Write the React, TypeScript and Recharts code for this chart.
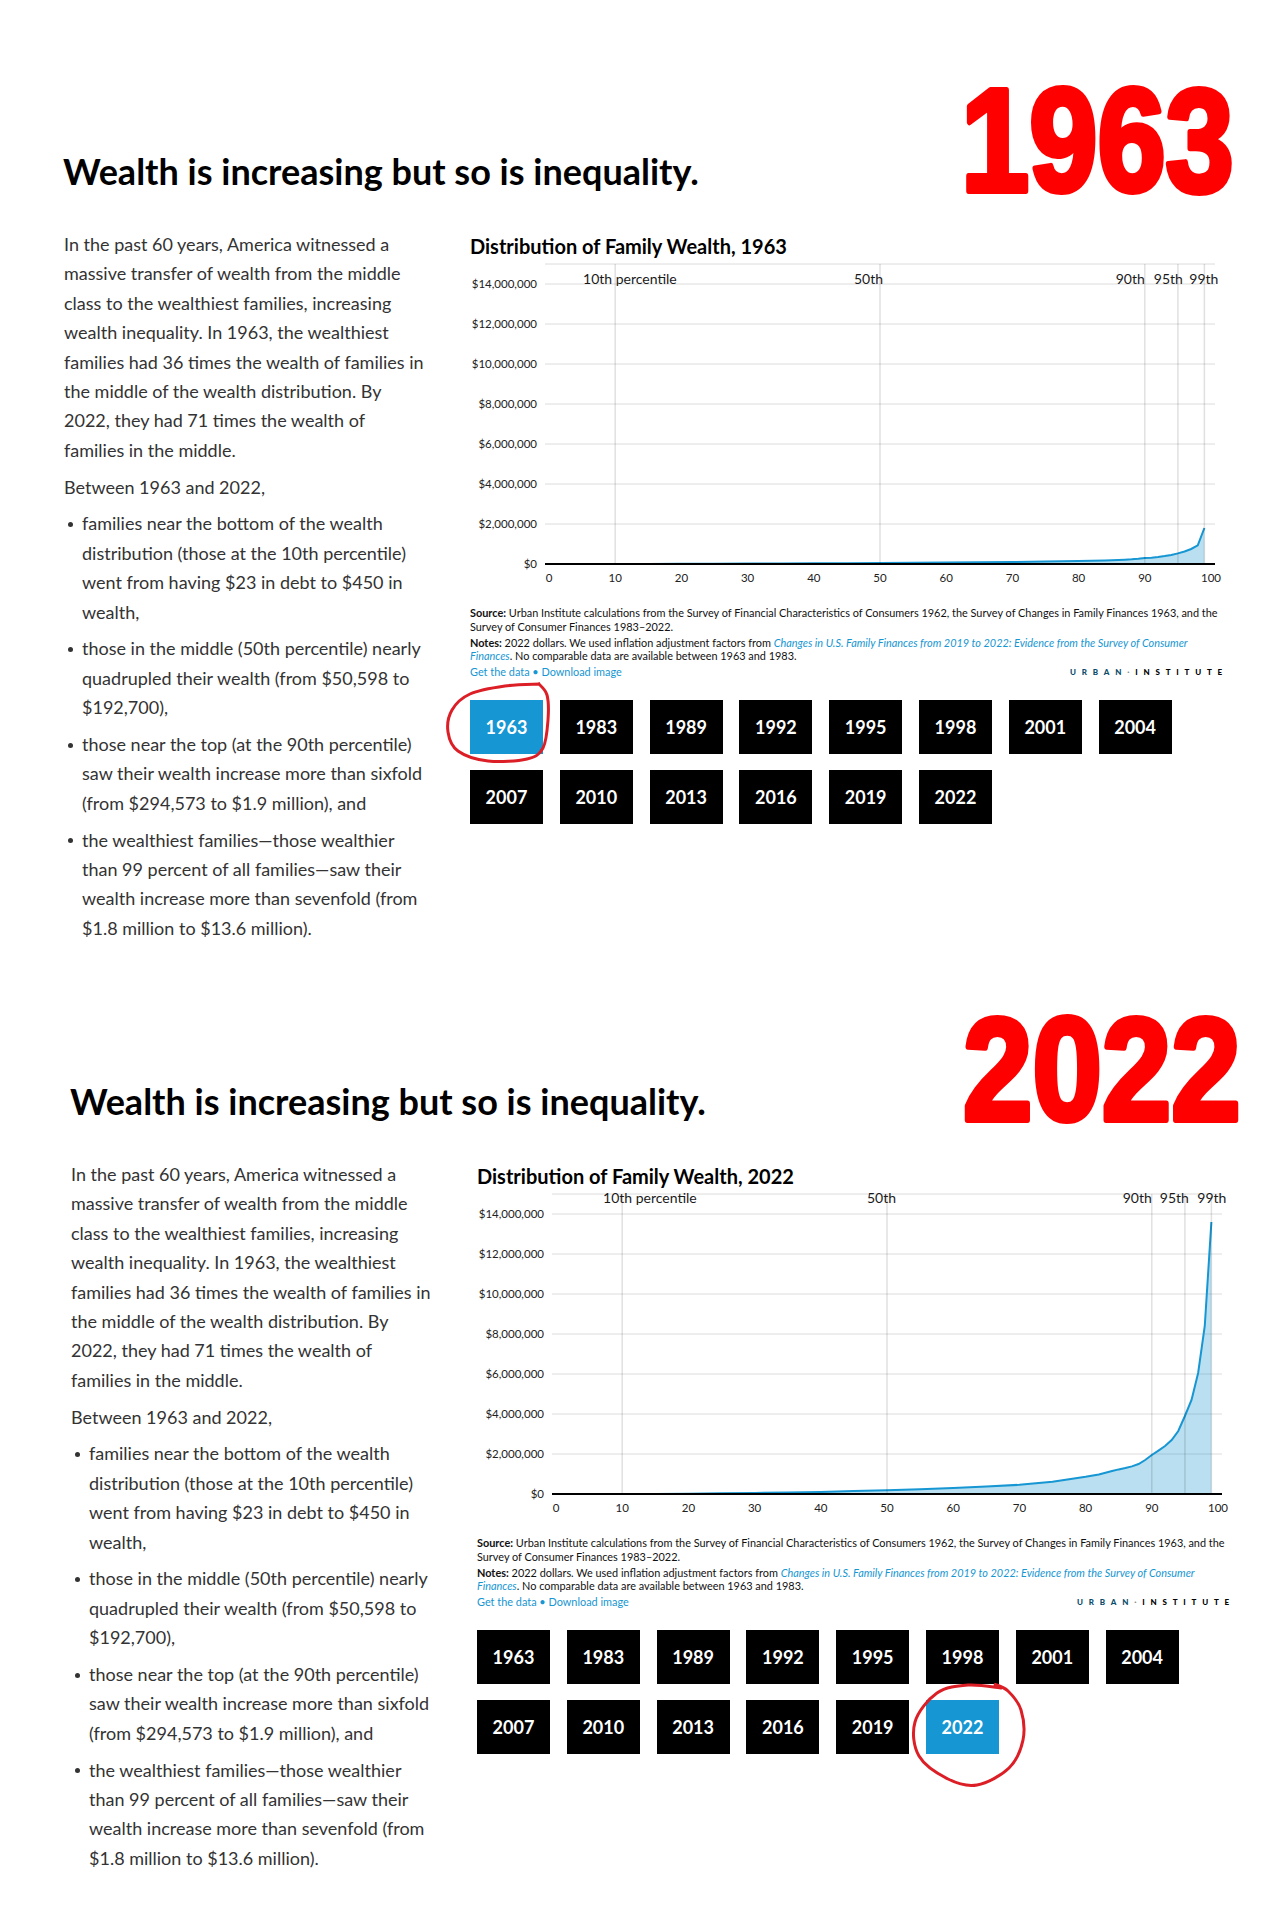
import React from "react"
import {
  ComposedChart,
  Area,
  XAxis,
  YAxis,
  CartesianGrid,
  ReferenceLine,
} from "recharts"

// percentiles plotted on the x axis
const percentiles = [
  1, 5, 10, 15, 20, 25, 30, 35, 40, 45, 50, 55, 60, 65, 70, 75, 80, 82, 84, 85, 86, 87, 88, 89,
  90, 91, 92, 93, 94, 95, 96, 97, 98, 99,
]

// family wealth (2022 dollars)
const wealth1963 = [
  -40000, -5000, -23, 4000, 9000, 15000, 22000, 29000, 36000, 43000, 50598, 60000, 72000, 86000,
  102000, 122000, 148000, 162000, 178000, 188000, 200000, 214000, 232000, 258000, 294573, 318000,
  350000, 395000, 455000, 530000, 625000, 750000, 930000, 1800000,
]
const wealth2022 = [
  -110000, -15000, 450, 6000, 17000, 32000, 52000, 75000, 105000, 145000, 192700, 240000, 300000,
  370000, 460000, 610000, 860000, 980000, 1150000, 1230000, 1300000, 1380000, 1500000, 1700000,
  1950000, 2170000, 2400000, 2700000, 3150000, 3900000, 4700000, 6050000, 8400000, 13600000,
]

const xTicks = [0, 10, 20, 30, 40, 50, 60, 70, 80, 90, 100]
const yTicks = [0, 2000000, 4000000, 6000000, 8000000, 10000000, 12000000, 14000000]
const markerPercentiles = [10, 50, 90, 95, 99]
const markerLabels = ["10th", "50th", "90th", "95th", "99th"]
const years = [
  "1963", "1983", "1989", "1992", "1995", "1998", "2001", "2004",
  "2007", "2010", "2013", "2016", "2019", "2022",
]

const BLUE = "#1696d2"
const FONT = "Lato, 'Open Sans', sans-serif"

type BodyLine = { text: string; bullet?: boolean; indent?: boolean; gap?: boolean }

const bodyLines: BodyLine[] = [
  { text: "In the past 60 years, America witnessed a" },
  { text: "massive transfer of wealth from the middle" },
  { text: "class to the wealthiest families, increasing" },
  { text: "wealth inequality. In 1963, the wealthiest" },
  { text: "families had 36 times the wealth of families in" },
  { text: "the middle of the wealth distribution. By" },
  { text: "2022, they had 71 times the wealth of" },
  { text: "families in the middle." },
  { text: "Between 1963 and 2022,", gap: true },
  { text: "families near the bottom of the wealth", bullet: true, indent: true, gap: true },
  { text: "distribution (those at the 10th percentile)", indent: true },
  { text: "went from having $23 in debt to $450 in", indent: true },
  { text: "wealth,", indent: true },
  { text: "those in the middle (50th percentile) nearly", bullet: true, indent: true, gap: true },
  { text: "quadrupled their wealth (from $50,598 to", indent: true },
  { text: "$192,700),", indent: true },
  { text: "those near the top (at the 90th percentile)", bullet: true, indent: true, gap: true },
  { text: "saw their wealth increase more than sixfold", indent: true },
  { text: "(from $294,573 to $1.9 million), and", indent: true },
  { text: "the wealthiest families\u2014those wealthier", bullet: true, indent: true, gap: true },
  { text: "than 99 percent of all families\u2014saw their", indent: true },
  { text: "wealth increase more than sevenfold (from", indent: true },
  { text: "$1.8 million to $13.6 million).", indent: true },
]

const circle1963 = [
  [540, 684], [505, 686], [470, 694], [452, 710], [448, 732], [458, 751], [488, 761],
  [527, 759], [543, 748], [548, 720], [547, 695], [538, 683],
]
const circle2022 = [
  [1002, 1688], [968, 1685], [937, 1693], [915, 1722], [919, 1756], [948, 1779], [977, 1785],
  [1009, 1768], [1023, 1740], [1021, 1710], [1008, 1691], [994, 1684],
]

function smoothPath(pts: number[][]) {
  let d = `M${pts[0][0]},${pts[0][1]}`
  for (let i = 0; i < pts.length - 1; i++) {
    const p0 = pts[i - 1] || pts[i]
    const p1 = pts[i]
    const p2 = pts[i + 1]
    const p3 = pts[i + 2] || p2
    const c1 = [p1[0] + (p2[0] - p0[0]) / 6, p1[1] + (p2[1] - p0[1]) / 6]
    const c2 = [p2[0] - (p3[0] - p1[0]) / 6, p2[1] - (p3[1] - p1[1]) / 6]
    d += ` C${c1[0]},${c1[1]} ${c2[0]},${c2[1]} ${p2[0]},${p2[1]}`
  }
  return d
}

const money = (v: number) => `$${v.toLocaleString("en-US")}`

function MarkerLabel(props: any) {
  const { viewBox, text, dx, dy, suffix } = props
  if (!viewBox) return null
  const x = viewBox.x + dx
  const y = viewBox.y + dy
  const style = { fontFamily: FONT, fontSize: 14, fill: "#1a1a1a" }
  return (
    <g>
      <text x={x} y={y} textAnchor="end" style={style}>
        {text}
      </text>
      {suffix && (
        <text x={x + 3.5} y={y} textAnchor="start" style={style}>
          {suffix}
        </text>
      )}
    </g>
  )
}

function WealthChart({
  values,
  labelDx,
  labelDy,
}: {
  values: number[]
  labelDx: number[]
  labelDy: number
}) {
  const data = percentiles.map((p, i) => ({ p, wealth: values[i] }))
  const tick = { fontFamily: FONT, fontSize: 11.5, fill: "#222" }
  return (
    <ComposedChart
      width={770}
      height={340}
      data={data}
      margin={{ top: 10, right: 25, left: 0, bottom: 0 }}
    >
      <CartesianGrid vertical={false} stroke="#dcdcdc" />
      <XAxis
        dataKey="p"
        type="number"
        domain={[0, 100]}
        ticks={xTicks}
        interval={0}
        padding={{ left: 4, right: 4 }}
        height={30}
        tickLine={false}
        tickSize={0}
        tickMargin={10}
        axisLine={{ stroke: "#000", strokeWidth: 2 }}
        tick={tick}
      />
      <YAxis
        type="number"
        domain={[0, 15000000]}
        allowDataOverflow
        ticks={yTicks}
        interval={0}
        width={75}
        axisLine={false}
        tickLine={false}
        tickSize={0}
        tickMargin={8}
        tickFormatter={money}
        tick={tick}
      />
      <Area
        type="linear"
        dataKey="wealth"
        stroke={BLUE}
        strokeWidth={2}
        fill={BLUE}
        fillOpacity={0.3}
        dot={false}
        activeDot={false}
        isAnimationActive={false}
      />
      {markerPercentiles.map((p, i) => (
        <ReferenceLine
          key={p}
          x={p}
          stroke="#000"
          strokeOpacity={0.12}
          strokeWidth={1.5}
          label={
            <MarkerLabel
              text={markerLabels[i]}
              suffix={i === 0 ? "percentile" : undefined}
              dx={labelDx[i]}
              dy={labelDy}
            />
          }
        />
      ))}
    </ComposedChart>
  )
}

function Section({
  dx,
  dy,
  selected,
  values,
  labelDx,
  labelDy,
}: {
  dx: number
  dy: number
  selected: string
  values: number[]
  labelDx: number[]
  labelDy: number
}) {
  let gaps = 0
  const noteLine = (top: number, children: React.ReactNode) => (
    <div
      style={{
        position: "absolute",
        left: 470 + dx,
        top: top + dy,
        fontSize: 10.9,
        lineHeight: "14px",
        whiteSpace: "nowrap",
        color: "#111",
      }}
    >
      {children}
    </div>
  )
  return (
    <>
      <div
        style={{
          position: "absolute",
          left: 63 + dx,
          top: 151 + dy,
          fontSize: 36,
          lineHeight: "40px",
          fontWeight: 700,
          color: "#000",
          whiteSpace: "nowrap",
        }}
      >
        Wealth is increasing but so is inequality.
      </div>

      {bodyLines.map((line, i) => {
        if (line.gap) gaps += 1
        const top = 234 + i * 29.4 + gaps * 7.4 + dy
        return (
          <div
            key={i}
            style={{
              position: "absolute",
              left: (line.indent ? 82 : 64) + dx,
              top,
              fontSize: 18,
              lineHeight: "20px",
              color: "#333",
              whiteSpace: "nowrap",
            }}
          >
            {line.bullet && (
              <span
                style={{
                  position: "absolute",
                  left: -14,
                  top: 8.5,
                  width: 5,
                  height: 5,
                  borderRadius: 3,
                  background: "#333",
                }}
              />
            )}
            {line.text}
          </div>
        )
      })}

      <div
        style={{
          position: "absolute",
          left: 470 + dx,
          top: 234 + dy,
          fontSize: 20,
          lineHeight: "24px",
          fontWeight: 700,
          color: "#000",
          whiteSpace: "nowrap",
        }}
      >
        Distribution of Family Wealth, {selected}
      </div>

      <div style={{ position: "absolute", left: 470 + dx, top: 254 + dy }}>
        <WealthChart values={values} labelDx={labelDx} labelDy={labelDy} />
      </div>

      {noteLine(
        606,
        <>
          <b>Source:</b> Urban Institute calculations from the Survey of Financial Characteristics
          of Consumers 1962, the Survey of Changes in Family Finances 1963, and the
        </>
      )}
      {noteLine(620, <>Survey of Consumer Finances 1983–2022.</>)}
      {noteLine(
        636,
        <>
          <b>Notes:</b> 2022 dollars. We used inflation adjustment factors from{" "}
          <i style={{ color: BLUE }}>
            Changes in U.S. Family Finances from 2019 to 2022: Evidence from the Survey of
            Consumer
          </i>
        </>
      )}
      {noteLine(
        649,
        <>
          <i style={{ color: BLUE }}>Finances</i>. No comparable data are available between 1963
          and 1983.
        </>
      )}
      {noteLine(
        665,
        <span style={{ color: BLUE }}>Get the data • Download image</span>
      )}
      <div
        style={{
          position: "absolute",
          left: 1050 + dx,
          width: 178,
          top: 667 + dy,
          textAlign: "right",
          fontSize: 8,
          lineHeight: "10px",
          fontWeight: 900,
          letterSpacing: 5.8,
          whiteSpace: "nowrap",
        }}
      >
        <span style={{ color: "#0a4c6a" }}>URBAN</span>
        <span style={{ color: "#888" }}>·</span>
        <span style={{ color: "#000" }}>INSTITUTE</span>
      </div>

      {years.map((y, i) => {
        const row = i < 8 ? 0 : 1
        const col = i < 8 ? i : i - 8
        return (
          <div
            key={y}
            style={{
              position: "absolute",
              left: 470 + col * 89.8 + dx,
              top: 700 + row * 70 + dy,
              width: 73,
              height: 54,
              background: y === selected ? BLUE : "#000",
              color: "#fff",
              fontSize: 18,
              fontWeight: 700,
              display: "flex",
              alignItems: "center",
              justifyContent: "center",
            }}
          >
            {y}
          </div>
        )
      })}
    </>
  )
}

const redYear = {
  fontFamily: "'Liberation Sans', Arial, sans-serif",
  fontWeight: 700,
  fontSize: 146,
}

function RedYear({ x, y, text, sx }: { x: number; y: number; text: string; sx: number }) {
  return (
    <g transform={`translate(${x},${y}) scale(${sx},1)`}>
      <text
        x={0}
        y={0}
        style={redYear}
        fill="#ff0000"
        stroke="#ff0000"
        strokeWidth={6}
        strokeLinejoin="round"
      >
        {text}
      </text>
    </g>
  )
}

export default function App() {
  return (
    <div
      style={{
        position: "absolute",
        left: 0,
        top: 0,
        width: 1287,
        height: 1930,
        background: "#fff",
        fontFamily: FONT,
        overflow: "hidden",
      }}
    >
      <Section
        dx={0}
        dy={0}
        selected="1963"
        values={wealth1963}
        labelDx={[-3, 3, 0, 5, 14]}
        labelDy={20}
      />
      <Section
        dx={7}
        dy={930}
        selected="2022"
        values={wealth2022}
        labelDx={[10, 9, 0, 4, 15]}
        labelDy={9}
      />
      <svg
        width={1287}
        height={1930}
        style={{ position: "absolute", left: 0, top: 0, pointerEvents: "none" }}
      >
        <RedYear x={961} y={191} text="1963" sx={0.84} />
        <RedYear x={963} y={1120} text="2022" sx={0.855} />
        <path d={smoothPath(circle1963)} fill="none" stroke="#dc1f26" strokeWidth={3} />
        <path d={smoothPath(circle2022)} fill="none" stroke="#dc1f26" strokeWidth={3} />
      </svg>
    </div>
  )
}
